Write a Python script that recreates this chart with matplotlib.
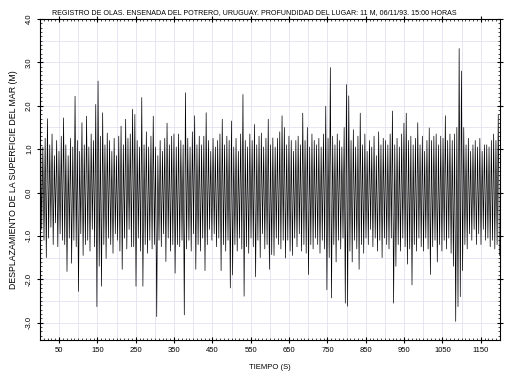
import matplotlib

matplotlib.use("Agg")
import matplotlib.pyplot as plt
import numpy as np
from matplotlib.ticker import MultipleLocator

# crest / trough heights, one wave every 6 s
crests = [
    1.35, 1.05, 1.25, 1.7, 1.1, 1.35, 0.85, 1.2, 0.95, 1.3,
    1.72, 1.1, 0.85, 1.25, 1.05, 2.22, 1.2, 0.95, 1.61, 1.1,
    1.76, 1.05, 1.35, 1.2, 2.03, 2.57, 1.3, 1.84, 1.1, 1.37,
    1.2, 0.95, 1.25, 0.85, 1.3, 1.53, 1.1, 1.69, 1.25, 1.35,
    1.92, 1.8, 1.2, 1.05, 2.19, 1.1, 1.4, 1.05, 1.3, 1.76,
    1.05, 0.85, 1.2, 0.95, 1.25, 1.6, 1.1, 1.3, 1.35, 1.05,
    1.35, 1.2, 1.1, 2.3, 1.25, 1.05, 1.4, 1.77, 1.1, 1.3,
    1.1, 1.3, 1.84, 1.2, 0.95, 1.25, 1.05, 1.2, 1.35, 1.69,
    1.1, 1.3, 1.2, 1.65, 1.05, 1.25, 0.95, 1.35, 2.26, 1.2,
    1.05, 1.35, 1.2, 1.57, 1.1, 1.3, 1.37, 1.05, 1.25, 1.69,
    1.1, 1.26, 1.05, 1.25, 1.4, 1.77, 1.5, 1.1, 1.3, 1.2,
    0.95, 1.2, 1.3, 1.1, 1.83, 1.2, 1.5, 1.05, 1.35, 1.2,
    1.1, 1.25, 1.05, 1.35, 1.99, 1.25, 2.88, 1.3, 1.1, 1.35,
    1.2, 1.05, 1.5, 2.49, 2.23, 1.2, 1.45, 1.05, 1.3, 1.83,
    1.1, 1.35, 0.95, 1.2, 1.05, 1.3, 0.85, 1.4, 1.1, 1.25,
    1.2, 1.1, 1.35, 1.88, 1.1, 1.25, 1.05, 1.35, 1.6, 1.83,
    1.2, 1.3, 1.1, 1.25, 1.61, 1.1, 1.3, 0.95, 1.2, 1.49,
    1.2, 1.3, 1.35, 1.1, 1.3, 1.25, 1.77, 1.2, 1.35, 1.2,
    1.35, 1.5, 3.32, 2.8, 1.5, 1.1, 1.25, 0.95, 1.1, 1.2,
    1.05, 1.25, 0.95, 1.1, 1.1, 1.05, 1.2, 1.35, 1.2, 1.8,
]
troughs = [
    -0.85, -1.1, -1.5, -1.05, -0.8, -1.2, -0.7, -1.25, -0.95, -1.1,
    -1.2, -1.82, -1.05, -1.63, -1.1, -1.25, -2.28, -0.95, -1.45, -1.2,
    -1.1, -1.35, -0.85, -1.25, -2.63, -1.7, -2.16, -1.2, -1.52, -1.05,
    -1.2, -1.4, -0.95, -1.1, -1.35, -1.77, -1.05, -1.3, -0.85, -1.25,
    -1.25, -2.16, -1.05, -1.35, -2.16, -1.2, -1.4, -1.1, -1.3, -1.2,
    -2.86, -1.1, -1.25, -0.95, -1.59, -1.05, -1.35, -1.2, -1.86, -1.2,
    -1.25, -1.1, -2.82, -1.3, -1.1, -1.35, -0.95, -1.77, -1.2, -1.35,
    -1.05, -1.8, -1.2, -0.85, -1.1, -0.95, -1.25, -1.05, -1.8, -1.2,
    -1.35, -1.1, -2.2, -1.9, -1.2, -1.35, -1.05, -1.3, -2.39, -1.25,
    -1.4, -1.05, -1.25, -1.94, -1.1, -1.5, -0.95, -1.3, -1.2, -1.77,
    -1.43, -1.45, -1.05, -1.2, -1.3, -1.1, -1.51, -1.1, -1.35, -1.45,
    -1.05, -1.25, -0.95, -1.35, -1.2, -1.4, -1.89, -1.2, -1.3, -1.05,
    -1.2, -1.4, -1.1, -1.3, -2.24, -1.5, -2.43, -1.2, -1.6, -1.1,
    -1.3, -1.05, -2.55, -2.62, -1.35, -1.6, -1.1, -1.3, -1.77, -1.2,
    -1.4, -1.05, -1.2, -0.85, -1.25, -1.05, -1.35, -1.1, -1.5, -1.05,
    -1.2, -1.3, -1.05, -2.55, -1.7, -1.2, -1.35, -1.05, -1.25, -1.65,
    -1.3, -2.13, -1.2, -1.35, -1.05, -1.25, -1.35, -1.05, -1.3, -1.89,
    -1.25, -1.1, -1.6, -1.2, -1.35, -1.1, -1.3, -1.05, -1.4, -1.7,
    -2.97, -2.63, -2.4, -1.8, -1.2, -1.3, -0.95, -1.1, -0.85, -1.2,
    -0.95, -1.2, -0.85, -1.1, -1.05, -1.25, -1.1, -1.3, -1.2, -1.45,
]
WAVE_PERIOD = 6.0  # s

title = ("REGISTRO DE OLAS. ENSENADA DEL POTRERO, URUGUAY. PROFUNDIDAD DEL LUGAR: "
         "11 M, 06/11/93. 15:00 HORAS")
x_ticks = list(range(50, 1200, 100))
y_ticks = [4.0, 3.0, 2.0, 1.0, 0.0, -1.0, -2.0, -3.0]

# interleave crests and troughs into one elevation record
t = [0.0]
eta = [0.0]
for k in range(len(crests)):
    t.append(k * WAVE_PERIOD + WAVE_PERIOD / 4)
    eta.append(crests[k])
    t.append(k * WAVE_PERIOD + 3 * WAVE_PERIOD / 4)
    eta.append(troughs[k])

plt.rcParams["font.family"] = ["Liberation Sans", "DejaVu Sans"]

fig = plt.figure(figsize=(5.08, 3.81), dpi=100)
ax = fig.add_axes([0.0787, 0.1076, 0.9055, 0.8424])

ax.plot(t, eta, color="black", linewidth=0.5, zorder=2)

ax.set_xlim(0, 1200)
ax.set_ylim(-3.4, 4.0)
ax.set_xticks(x_ticks)
ax.set_xticklabels([str(v) for v in x_ticks])
ax.xaxis.set_minor_locator(MultipleLocator(10))
ax.set_yticks(y_ticks)
ax.set_yticklabels([f"{v:.1f}" for v in y_ticks], rotation=90, va="center")
ax.yaxis.set_minor_locator(MultipleLocator(0.1))

# light grid every 50 s and 0.5 m
for gx in np.arange(50, 1200, 50):
    ax.axvline(gx, color="#e2e2f4", linewidth=0.6, zorder=0)
for gy in np.arange(-3.0, 4.0, 0.5):
    ax.axhline(gy, color="#e2e2f4", linewidth=0.6, zorder=0)

ax.tick_params(which="major", direction="inout", length=4, width=0.8,
               labelsize=5.5, top=True, right=True, pad=3)
ax.tick_params(which="minor", direction="in", length=1.5, width=0.5,
               top=True, right=True)
for s in ax.spines.values():
    s.set_linewidth(0.8)

ax.set_xlabel("TIEMPO (S)", fontsize=5.5, labelpad=7)
ax.set_ylabel("DESPLAZAMIENTO DE LA SUPERFICIE DEL MAR (M)", fontsize=6.3, labelpad=6)
fig.text(0.5, 0.968, title, ha="center", va="center", fontsize=5.1)

fig.savefig("out.png", dpi=100)
plt.close(fig)
